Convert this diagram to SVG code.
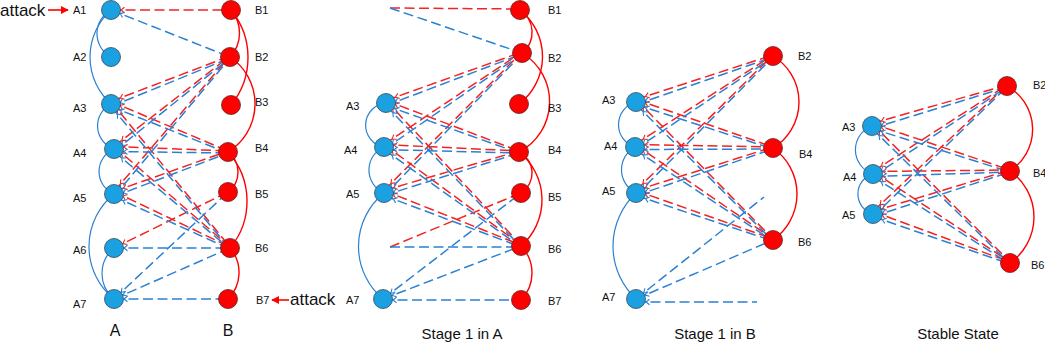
<svg xmlns="http://www.w3.org/2000/svg" width="1045" height="344" viewBox="0 0 1045 344">
<style>
.r{stroke:#f52222;stroke-width:1.5;stroke-dasharray:10 4.5;fill:none;marker-start:url(#mr)}
.rn{stroke:#f52222;stroke-width:1.5;stroke-dasharray:10 4.5;fill:none}
.b{stroke:#2a80d2;stroke-width:1.5;stroke-dasharray:10 4.5;fill:none;marker-start:url(#mb)}
.bn{stroke:#2a80d2;stroke-width:1.5;stroke-dasharray:10 4.5;fill:none}
.ra{stroke:#f00;stroke-width:1.4;fill:none}
.ba{stroke:#2a80d2;stroke-width:1.2;fill:none}
.na{fill:#1ba1e2;stroke:#3a4a55;stroke-width:0.8}
.nb{fill:#f00;stroke:#5a2a2a;stroke-width:0.8}
text{font-family:"Liberation Sans",Arial,sans-serif;fill:#111}
.l{font-size:11px}
.big{font-size:16px}
.t{font-size:15px;text-anchor:middle}
.at{font-size:17px}
</style>
<defs>
<marker id="mb" viewBox="0 0 20 10" markerWidth="20" markerHeight="10" refX="18" refY="5" markerUnits="userSpaceOnUse" orient="auto-start-reverse"><path d="M4.5,2.2 L8,5 L4.5,7.8" fill="none" stroke="#2a80d2" stroke-width="1.1"/></marker>
<marker id="mr" viewBox="0 0 20 10" markerWidth="20" markerHeight="10" refX="18" refY="5" markerUnits="userSpaceOnUse" orient="auto-start-reverse"><path d="M4.5,2.2 L8,5 L4.5,7.8" fill="none" stroke="#f52222" stroke-width="1.1"/></marker>
<marker id="ah" viewBox="0 0 10 10" markerWidth="8" markerHeight="8" refX="9" refY="5" markerUnits="userSpaceOnUse" orient="auto"><path d="M0,0 L10,5 L0,10 Z" fill="#f00"/></marker>
</defs>

<g id="connectors">
<!-- Panel 1 arcs -->
<path class="ba" d="M111,10 A26.7,26.7 0 0 0 111,57"/>
<path class="ba" d="M111,10 A63.1,63.1 0 0 0 111,104"/>
<path class="ba" d="M111,104 A24.5,24.5 0 0 0 114,149"/>
<path class="ba" d="M114,149 A24.4,24.4 0 0 0 114,194"/>
<path class="ba" d="M114,194 A67.6,67.6 0 0 0 114,299"/>
<path class="ba" d="M114,248 A33.1,33.1 0 0 0 114,299"/>
<path class="ra" d="M231,10 A35.2,35.2 0 0 1 230,57"/>
<path class="ra" d="M231,10 A74.9,74.9 0 0 1 231,105"/>
<path class="ra" d="M230,57 A56.4,56.4 0 0 1 228,152"/>
<path class="ra" d="M228,152 A25,25 0 0 1 228,192"/>
<path class="ra" d="M228,152 A73,73 0 0 1 230,248"/>
<path class="ra" d="M230,248 A37.5,37.5 0 0 1 228,299"/>
<!-- Panel 1 dashed -->
<line class="r" x1="111" y1="10" x2="231" y2="10"/>
<line class="r" x1="111" y1="101.5" x2="230" y2="56"/>
<line class="r" x1="114" y1="146.5" x2="230" y2="56"/>
<line class="r" x1="114" y1="191.5" x2="230" y2="56"/>
<line class="r" x1="111" y1="101.5" x2="228" y2="151"/>
<line class="r" x1="114" y1="146.5" x2="228" y2="151"/>
<line class="r" x1="114" y1="191.5" x2="228" y2="151"/>
<line class="r" x1="111" y1="101.5" x2="230" y2="247"/>
<line class="r" x1="114" y1="146.5" x2="230" y2="247"/>
<line class="r" x1="114" y1="191.5" x2="230" y2="247"/>
<line class="r" x1="114" y1="248" x2="228" y2="192"/>
<line class="b" x1="111" y1="10" x2="230" y2="57"/>
<line class="b" x1="111" y1="106.5" x2="230" y2="58"/>
<line class="b" x1="114" y1="151.5" x2="230" y2="58"/>
<line class="b" x1="114" y1="196.5" x2="230" y2="58"/>
<line class="b" x1="111" y1="106.5" x2="228" y2="153"/>
<line class="b" x1="114" y1="151.5" x2="228" y2="153"/>
<line class="b" x1="114" y1="196.5" x2="228" y2="153"/>
<line class="b" x1="111" y1="106.5" x2="230" y2="249"/>
<line class="b" x1="114" y1="151.5" x2="230" y2="249"/>
<line class="b" x1="114" y1="196.5" x2="230" y2="249"/>
<line class="b" x1="114" y1="248" x2="230" y2="248"/>
<line class="b" x1="114" y1="299" x2="228" y2="192"/>
<line class="b" x1="114" y1="299" x2="230" y2="248"/>
<line class="b" x1="114" y1="299" x2="228" y2="299"/>

<!-- Panel 2 arcs -->
<path class="ba" d="M386,103 A22.2,22.2 0 0 0 384,147"/>
<path class="ba" d="M384,147 A25.1,25.1 0 0 0 384,193"/>
<path class="ba" d="M384,193 A68.7,68.7 0 0 0 383,299"/>
<path class="ra" d="M520,10 A26.5,26.5 0 0 1 522,53"/>
<path class="ra" d="M520,10 A59.5,59.5 0 0 1 519,104"/>
<path class="ra" d="M522,53 A56.7,56.7 0 0 1 519,152"/>
<path class="ra" d="M519,152 A23.5,23.5 0 0 1 521,193"/>
<path class="ra" d="M519,152 A61.2,61.2 0 0 1 521,246"/>
<path class="ra" d="M521,246 A38.6,38.6 0 0 1 521,300"/>
<!-- Panel 2 dashed -->
<line class="rn" x1="390" y1="8" x2="520" y2="9"/>
<line class="r" x1="386" y1="100.5" x2="522" y2="52"/>
<line class="r" x1="384" y1="144.5" x2="522" y2="52"/>
<line class="r" x1="384" y1="190.5" x2="522" y2="52"/>
<line class="r" x1="386" y1="100.5" x2="519" y2="151"/>
<line class="r" x1="384" y1="144.5" x2="519" y2="151"/>
<line class="r" x1="384" y1="190.5" x2="519" y2="151"/>
<line class="r" x1="386" y1="100.5" x2="521" y2="245"/>
<line class="r" x1="384" y1="144.5" x2="521" y2="245"/>
<line class="r" x1="384" y1="190.5" x2="521" y2="245"/>
<line class="rn" x1="390" y1="247" x2="521" y2="193"/>
<line class="bn" x1="390" y1="8" x2="522" y2="53"/>
<line class="b" x1="386" y1="105.5" x2="522" y2="54"/>
<line class="b" x1="384" y1="149.5" x2="522" y2="54"/>
<line class="b" x1="384" y1="195.5" x2="522" y2="54"/>
<line class="b" x1="386" y1="105.5" x2="519" y2="153"/>
<line class="b" x1="384" y1="149.5" x2="519" y2="153"/>
<line class="b" x1="384" y1="195.5" x2="519" y2="153"/>
<line class="b" x1="386" y1="105.5" x2="521" y2="247"/>
<line class="b" x1="384" y1="149.5" x2="521" y2="247"/>
<line class="b" x1="384" y1="195.5" x2="521" y2="247"/>
<line class="bn" x1="390" y1="247" x2="521" y2="247"/>
<line class="b" x1="383" y1="299" x2="521" y2="193"/>
<line class="b" x1="383" y1="299" x2="521" y2="246"/>
<line class="b" x1="383" y1="300" x2="521" y2="300"/>

<!-- Panel 3 arcs -->
<path class="ba" d="M636,102 A23.4,23.4 0 0 0 635,147"/>
<path class="ba" d="M635,147 A25.9,25.9 0 0 0 636,193"/>
<path class="ba" d="M636,193 A72.6,72.6 0 0 0 636,299"/>
<path class="ra" d="M773,56 A53.7,53.7 0 0 1 773,148"/>
<path class="ra" d="M773,148 A56.1,56.1 0 0 1 773,240"/>
<!-- Panel 3 dashed -->
<line class="r" x1="636" y1="99.5" x2="773" y2="55"/>
<line class="r" x1="635" y1="144.5" x2="773" y2="55"/>
<line class="r" x1="636" y1="190.5" x2="773" y2="55"/>
<line class="r" x1="636" y1="99.5" x2="773" y2="147"/>
<line class="r" x1="635" y1="144.5" x2="773" y2="147"/>
<line class="r" x1="636" y1="190.5" x2="773" y2="147"/>
<line class="r" x1="636" y1="99.5" x2="773" y2="239"/>
<line class="r" x1="635" y1="144.5" x2="773" y2="239"/>
<line class="r" x1="636" y1="190.5" x2="773" y2="239"/>
<line class="b" x1="636" y1="104.5" x2="773" y2="57"/>
<line class="b" x1="635" y1="149.5" x2="773" y2="57"/>
<line class="b" x1="636" y1="195.5" x2="773" y2="57"/>
<line class="b" x1="636" y1="104.5" x2="773" y2="149"/>
<line class="b" x1="635" y1="149.5" x2="773" y2="149"/>
<line class="b" x1="636" y1="195.5" x2="773" y2="149"/>
<line class="b" x1="636" y1="104.5" x2="773" y2="241"/>
<line class="b" x1="635" y1="149.5" x2="773" y2="241"/>
<line class="b" x1="636" y1="195.5" x2="773" y2="241"/>
<line class="b" x1="636" y1="299" x2="773" y2="240"/>
<line class="b" x1="636" y1="299" x2="764" y2="197"/>
<line class="b" x1="636" y1="302" x2="757" y2="302"/>

<!-- Panel 4 arcs -->
<path class="ba" d="M872,126 A25.4,25.4 0 0 0 873,174"/>
<path class="ba" d="M873,174 A20.8,20.8 0 0 0 873,214"/>
<path class="ra" d="M1007,86 A49.6,49.6 0 0 1 1010,171"/>
<path class="ra" d="M1010,171 A56.1,56.1 0 0 1 1010,263"/>
<!-- Panel 4 dashed -->
<line class="r" x1="872" y1="123.5" x2="1007" y2="85"/>
<line class="r" x1="873" y1="171.5" x2="1007" y2="85"/>
<line class="r" x1="873" y1="211.5" x2="1007" y2="85"/>
<line class="r" x1="872" y1="123.5" x2="1010" y2="170"/>
<line class="r" x1="873" y1="171.5" x2="1010" y2="170"/>
<line class="r" x1="873" y1="211.5" x2="1010" y2="170"/>
<line class="r" x1="872" y1="123.5" x2="1010" y2="262"/>
<line class="r" x1="873" y1="171.5" x2="1010" y2="262"/>
<line class="r" x1="873" y1="211.5" x2="1010" y2="262"/>
<line class="b" x1="872" y1="128.5" x2="1007" y2="87"/>
<line class="b" x1="873" y1="176.5" x2="1007" y2="87"/>
<line class="b" x1="873" y1="216.5" x2="1007" y2="87"/>
<line class="b" x1="872" y1="128.5" x2="1010" y2="172"/>
<line class="b" x1="873" y1="176.5" x2="1010" y2="172"/>
<line class="b" x1="873" y1="216.5" x2="1010" y2="172"/>
<line class="b" x1="872" y1="128.5" x2="1010" y2="264"/>
<line class="b" x1="873" y1="176.5" x2="1010" y2="264"/>
<line class="b" x1="873" y1="216.5" x2="1010" y2="264"/>

<!-- attack arrows -->
<line x1="48" y1="10" x2="68" y2="10" stroke="#f00" stroke-width="1.6" marker-end="url(#ah)"/>
<line x1="289" y1="300" x2="272" y2="300" stroke="#f00" stroke-width="1.6" marker-end="url(#ah)"/>
</g>

<!-- Panel 1 nodes -->
<g id="p1-A1"><circle class="na" cx="111" cy="10" r="9.5"/><text class="l" x="73" y="14">A1</text></g>
<g id="p1-A2"><circle class="na" cx="111" cy="57" r="9.5"/><text class="l" x="73" y="61">A2</text></g>
<g id="p1-A3"><circle class="na" cx="111" cy="104" r="9.5"/><text class="l" x="73" y="112">A3</text></g>
<g id="p1-A4"><circle class="na" cx="114" cy="149" r="9.5"/><text class="l" x="73" y="157">A4</text></g>
<g id="p1-A5"><circle class="na" cx="114" cy="194" r="9.5"/><text class="l" x="73" y="202">A5</text></g>
<g id="p1-A6"><circle class="na" cx="114" cy="248" r="9.5"/><text class="l" x="73" y="254">A6</text></g>
<g id="p1-A7"><circle class="na" cx="114" cy="299" r="9.5"/><text class="l" x="73" y="308">A7</text></g>
<g id="p1-B1"><circle class="nb" cx="231" cy="10" r="9.5"/><text class="l" x="255" y="14">B1</text></g>
<g id="p1-B2"><circle class="nb" cx="230" cy="57" r="9.5"/><text class="l" x="255" y="61">B2</text></g>
<g id="p1-B3"><circle class="nb" cx="231" cy="105" r="9.5"/><text class="l" x="255" y="106">B3</text></g>
<g id="p1-B4"><circle class="nb" cx="228" cy="152" r="9.5"/><text class="l" x="255" y="152">B4</text></g>
<g id="p1-B5"><circle class="nb" cx="228" cy="192" r="9.5"/><text class="l" x="255" y="198">B5</text></g>
<g id="p1-B6"><circle class="nb" cx="230" cy="248" r="9.5"/><text class="l" x="255" y="252">B6</text></g>
<g id="p1-B7"><circle class="nb" cx="228" cy="299" r="9.5"/><text class="l" x="256" y="304">B7</text></g>
<g id="p1-labels"><text class="big" x="115" y="336" text-anchor="middle">A</text><text class="big" x="228" y="336" text-anchor="middle">B</text>
<text class="at" x="0" y="16">attack</text><text class="at" x="290" y="305">attack</text></g>

<!-- Panel 2 nodes -->
<g id="p2-A3"><circle class="na" cx="386" cy="103" r="9.5"/><text class="l" x="346" y="110">A3</text></g>
<g id="p2-A4"><circle class="na" cx="384" cy="147" r="9.5"/><text class="l" x="344" y="154">A4</text></g>
<g id="p2-A5"><circle class="na" cx="384" cy="193" r="9.5"/><text class="l" x="346" y="198">A5</text></g>
<g id="p2-A7"><circle class="na" cx="383" cy="299" r="9.5"/><text class="l" x="346" y="304">A7</text></g>
<g id="p2-B1"><circle class="nb" cx="520" cy="10" r="9.5"/><text class="l" x="548" y="14">B1</text></g>
<g id="p2-B2"><circle class="nb" cx="522" cy="53" r="9.5"/><text class="l" x="548" y="62">B2</text></g>
<g id="p2-B3"><circle class="nb" cx="519" cy="104" r="9.5"/><text class="l" x="548" y="112">B3</text></g>
<g id="p2-B4"><circle class="nb" cx="519" cy="152" r="9.5"/><text class="l" x="548" y="154">B4</text></g>
<g id="p2-B5"><circle class="nb" cx="521" cy="193" r="9.5"/><text class="l" x="548" y="201">B5</text></g>
<g id="p2-B6"><circle class="nb" cx="521" cy="246" r="9.5"/><text class="l" x="548" y="253">B6</text></g>
<g id="p2-B7"><circle class="nb" cx="521" cy="300" r="9.5"/><text class="l" x="548" y="305">B7</text></g>
<g id="p2-title"><text class="t" x="462" y="339">Stage 1 in A</text></g>

<!-- Panel 3 nodes -->
<g id="p3-A3"><circle class="na" cx="636" cy="102" r="9.5"/><text class="l" x="602" y="104">A3</text></g>
<g id="p3-A4"><circle class="na" cx="635" cy="147" r="9.5"/><text class="l" x="604" y="150">A4</text></g>
<g id="p3-A5"><circle class="na" cx="636" cy="193" r="9.5"/><text class="l" x="602" y="195">A5</text></g>
<g id="p3-A7"><circle class="na" cx="636" cy="299" r="9.5"/><text class="l" x="602" y="301">A7</text></g>
<g id="p3-B2"><circle class="nb" cx="773" cy="56" r="9.5"/><text class="l" x="798" y="60">B2</text></g>
<g id="p3-B4"><circle class="nb" cx="773" cy="148" r="9.5"/><text class="l" x="799" y="158">B4</text></g>
<g id="p3-B6"><circle class="nb" cx="773" cy="240" r="9.5"/><text class="l" x="798" y="246">B6</text></g>
<g id="p3-title"><text class="t" x="715" y="339">Stage 1 in B</text></g>

<!-- Panel 4 nodes -->
<g id="p4-A3"><circle class="na" cx="872" cy="126" r="9.5"/><text class="l" x="842" y="131">A3</text></g>
<g id="p4-A4"><circle class="na" cx="873" cy="174" r="9.5"/><text class="l" x="843" y="181">A4</text></g>
<g id="p4-A5"><circle class="na" cx="873" cy="214" r="9.5"/><text class="l" x="842" y="219">A5</text></g>
<g id="p4-B2"><circle class="nb" cx="1007" cy="86" r="9.5"/><text class="l" x="1033" y="89">B2</text></g>
<g id="p4-B4"><circle class="nb" cx="1010" cy="171" r="9.5"/><text class="l" x="1033" y="177">B4</text></g>
<g id="p4-B6"><circle class="nb" cx="1010" cy="263" r="9.5"/><text class="l" x="1031" y="269">B6</text></g>
<g id="p4-title"><text class="t" x="958" y="339">Stable State</text></g>
</svg>
